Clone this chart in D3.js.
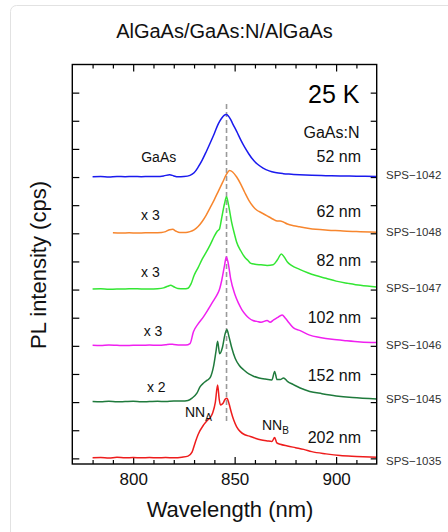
<!DOCTYPE html>
<html>
<head>
<meta charset="utf-8">
<script src="https://cdn.jsdelivr.net/npm/d3@7"></script>
<style>
	body { margin: 0; background: #fff; }
	svg { font-family: Arial, "Liberation Sans", sans-serif; }
	.tick line { stroke: #000; stroke-width: 1.2; }
	.tick text { font-size: 17px; fill: #111; }
	.domain { display: none; }
</style>
</head>
<body>
<div id="chart"></div>
<script>

	// spectra: [wavelength (nm), intensity above own baseline]
	const sps1042 = [ [780,0.01],[784,0.02],[788,0.0],[792,0.02],[796,0.01],[800,0.02],[804,0.01],[808,0.02],[812,0.02],[815,0.04],[818,0.08],[820,0.04],[822,0.01],[825,0.02],[828,0.06],[830,0.15],[832,0.35],[834,0.6],[836,0.9],[838,1.22],[840,1.55],[842,1.9],[843.5,2.08],[844.8,2.19],[845.8,2.22],[846.8,2.18],[848,2.05],[849,1.9],[851,1.62],[853,1.32],[855,1.05],[857,0.82],[859,0.62],[861,0.47],[864,0.32],[867,0.22],[870,0.16],[874,0.12],[878,0.1],[882,0.08],[888,0.06],[895,0.05],[902,0.04],[910,0.03],[920,0.02] ];
	const sps1048 = [ [790,0.02],[794,0.01],[798,0.02],[802,0.01],[806,0.02],[810,0.02],[814,0.03],[816,0.06],[818,0.13],[819.5,0.14],[821,0.08],[823,0.03],[826,0.03],[828,0.06],[830,0.12],[832,0.24],[834,0.42],[836,0.65],[838,0.92],[840,1.2],[842,1.5],[844,1.8],[846,2.1],[847.5,2.23],[849,2.18],[851,2.0],[853,1.75],[855,1.45],[857,1.17],[859,0.96],[861,0.82],[863,0.74],[865,0.66],[867,0.58],[869,0.5],[871,0.44],[872.5,0.44],[874,0.4],[876,0.33],[879,0.27],[882,0.23],[886,0.18],[890,0.14],[896,0.11],[902,0.09],[910,0.06],[920,0.04] ];
	const sps1047 = [ [780,0.02],[784,0.03],[788,0.01],[792,0.02],[796,0.02],[800,0.03],[804,0.02],[808,0.02],[812,0.03],[815,0.06],[817,0.12],[818.5,0.15],[820,0.1],[822,0.04],[825,0.03],[827,0.05],[828.5,0.2],[830,0.5],[832,0.78],[834,1.08],[836,1.33],[838,1.6],[840,1.9],[841.5,2.08],[842.5,2.15],[843.5,2.5],[845,3.05],[846,3.3],[847,3.0],[848.5,2.4],[850,1.95],[851,1.68],[853,1.38],[855,1.15],[856.5,1.04],[858,0.93],[860,0.9],[863,0.88],[866,0.86],[869,0.88],[871,1.05],[873,1.26],[874.5,1.15],[876,0.98],[878,0.86],[882,0.72],[886,0.6],[890,0.5],[895,0.4],[900,0.3],[906,0.22],[912,0.15],[920,0.09] ];
	const sps1046 = [ [780,0.02],[784,0.01],[788,0.03],[792,0.02],[796,0.01],[800,0.02],[804,0.02],[808,0.03],[812,0.02],[816,0.04],[818,0.06],[820,0.05],[823,0.03],[826,0.03],[828,0.08],[829.7,0.5],[832,0.78],[834.7,1.04],[837,1.3],[839.5,1.6],[841.3,1.81],[842.5,2.0],[843.7,2.35],[845,2.85],[845.9,3.16],[846.8,2.95],[848,2.4],[850,1.85],[852,1.5],[853.6,1.28],[855.5,1.1],[857,0.99],[859,0.9],[861,0.87],[863,0.84],[866,0.9],[867.5,0.84],[869.2,0.92],[871,1.0],[873.4,1.1],[875,0.98],[877,0.8],[879,0.64],[882,0.55],[887,0.38],[892,0.3],[898,0.23],[905,0.18],[912,0.14],[920,0.12] ];
	const sps1045 = [ [780,0.02],[784,0.01],[788,0.03],[792,0.01],[796,0.02],[800,0.03],[804,0.01],[808,0.02],[812,0.03],[816,0.02],[820,0.04],[824,0.04],[827,0.06],[829,0.14],[831.4,0.32],[833,0.55],[834.7,0.68],[836.5,0.78],[838,0.88],[839.6,1.27],[840.8,1.8],[841.6,2.16],[842.6,1.72],[844,1.95],[845.2,2.4],[846.2,2.57],[847.3,2.3],[848.5,1.95],[850.3,1.55],[852.3,1.3],[854.4,1.15],[857,1.0],[859.3,0.92],[862,0.86],[865,0.82],[868.4,0.79],[869.7,1.09],[870.9,0.8],[872.5,0.8],[874.1,0.86],[876,0.74],[879,0.62],[882.3,0.5],[887,0.38],[893,0.3],[900,0.22],[908,0.16],[920,0.11] ];
	const sps1035 = [ [780,0.02],[784,0.03],[788,0.01],[792,0.04],[796,0.02],[800,0.03],[804,0.02],[808,0.03],[812,0.02],[816,0.03],[820,0.02],[824,0.04],[827,0.08],[829,0.22],[830.5,0.55],[832,0.85],[834.7,1.19],[836.5,1.35],[838,1.45],[839.2,1.62],[840.5,2.0],[841.6,2.61],[842.4,2.1],[843,1.9],[844.2,1.95],[845.3,2.1],[846.2,2.14],[847.2,1.95],[848.3,1.65],[849.5,1.37],[851,1.12],[852.8,0.95],[855,0.84],[857.7,0.78],[860,0.72],[862.7,0.66],[866,0.62],[868.4,0.6],[869.7,0.74],[870.8,0.55],[872.5,0.5],[876,0.44],[880,0.38],[884,0.32],[888,0.24],[895,0.16],[902,0.1],[910,0.07],[920,0.04] ];

	const spectra = [ sps1042, sps1048, sps1047, sps1046, sps1045, sps1035 ];
	const sampleNames = [ "SPS\u22121042", "SPS\u22121048", "SPS\u22121047", "SPS\u22121046", "SPS\u22121045", "SPS\u22121035" ];
	const thickness = [ "52 nm", "62 nm", "82 nm", "102 nm", "152 nm", "202 nm" ];
	const offsets = [ 10, 8, 6, 4, 2, 0 ];
	const colors = [ "#1a1aee", "#f7862e", "#33e633", "#f020f0", "#1f7a3c", "#ee1c1c" ];
	const factors = [ "GaAs", "x 3", "x 3", "x 3", "x 2" ];

	const majorTicks = [ 800, 850, 900 ];
	const minorTicks = d3.range(780, 920, 10).filter((d) => d % 50 !== 0);
	const yTicks = d3.range(0, 14);
	const peakLine = 846;

	const width = 448;
	const height = 532;
	const frame = { left: 72.3, top: 64.5, right: 376.7, bottom: 464 };

	const svg = d3.select("#chart")
					.append("svg")
						.attr("width", width)
						.attr("height", height);

	// light panel outline
	svg.append("rect")
		.attr("x", 10.5)
		.attr("y", 5.5)
		.attr("width", 460)
		.attr("height", 560)
		.attr("rx", 6)
		.style("fill", "none")
		.style("stroke", "#e2e2e2");

	const x = d3.scaleLinear()
				.domain([770, 920])
				.range([frame.left, frame.right]);

	const y = d3.scaleLinear()
				.domain([-0.2, 14])
				.range([frame.bottom, frame.top]);

	// axes, ticks pointing inward on all four sides
	svg.append("g")
		.attr("transform", `translate(0, ${frame.bottom})`)
		.call(d3.axisBottom(x).tickValues(majorTicks).tickSize(-7).tickPadding(9).tickFormat(d3.format("d")));
	svg.append("g")
		.attr("transform", `translate(0, ${frame.bottom})`)
		.call(d3.axisBottom(x).tickValues(minorTicks).tickSize(-4).tickFormat(""));
	svg.append("g")
		.attr("transform", `translate(0, ${frame.top})`)
		.call(d3.axisTop(x).tickValues(majorTicks).tickSize(-7).tickFormat(""));
	svg.append("g")
		.attr("transform", `translate(0, ${frame.top})`)
		.call(d3.axisTop(x).tickValues(minorTicks).tickSize(-4).tickFormat(""));
	svg.append("g")
		.attr("transform", `translate(${frame.left}, 0)`)
		.call(d3.axisLeft(y).tickValues(yTicks).tickSize(-7).tickFormat(""));
	svg.append("g")
		.attr("transform", `translate(${frame.right}, 0)`)
		.call(d3.axisRight(y).tickValues(yTicks).tickSize(-6).tickFormat(""));

	svg.append("line")
		.attr("x1", x(peakLine))
		.attr("x2", x(peakLine))
		.attr("y1", y(12.6))
		.attr("y2", y(1.26))
		.style("stroke", "#9a9a9a")
		.style("stroke-width", 1.6)
		.style("stroke-dasharray", "5,3");

	const line = d3.line()
					.x((d) => x(d[0]))
					.curve(d3.curveMonotoneX);

	svg.append("g")
		.attr("class", "spectra")
		.selectAll("path")
			.data(spectra).enter()
		.append("path")
			.attr("d", (d, i) => line.y((p) => y(p[1] + offsets[i]))(d))
			.style("fill", "none")
			.style("stroke", (d, i) => colors[i])
			.style("stroke-width", 1.5);

	svg.append("rect")
		.attr("x", frame.left)
		.attr("y", frame.top)
		.attr("width", frame.right - frame.left)
		.attr("height", frame.bottom - frame.top)
		.style("fill", "none")
		.style("stroke", "#000")
		.style("stroke-width", 1.4);

	// labels
	const thicknessY = [ 161.7, 217.3, 265.7, 322.7, 380.7, 442.7 ];
	const sampleY = [ 178.5, 235.5, 292, 349.3, 403.3, 465 ];
	const factorPos = [ [812.6, 161.5], [808.5, 219.5], [808.5, 276.5], [809.8, 336], [811.4, 392] ];

	svg.append("g")
		.selectAll("text")
			.data(thickness).enter()
		.append("text")
			.attr("x", 361)
			.attr("y", (d, i) => thicknessY[i])
			.attr("text-anchor", "end")
			.style("font-size", "16px")
			.style("fill", "#111")
			.text((d) => d);

	svg.append("g")
		.selectAll("text")
			.data(sampleNames).enter()
		.append("text")
			.attr("x", 386)
			.attr("y", (d, i) => sampleY[i])
			.style("font-size", "11.5px")
			.style("fill", "#333")
			.text((d) => d);

	svg.append("g")
		.selectAll("text")
			.data(factorPos).enter()
		.append("text")
			.attr("x", (d) => x(d[0]))
			.attr("y", (d) => d[1])
			.attr("text-anchor", "middle")
			.style("font-size", "14px")
			.style("fill", "#111")
			.text((d, i) => factors[i]);

	svg.append("text")
		.attr("x", 359.5)
		.attr("y", 102.7)
		.attr("text-anchor", "end")
		.style("font-size", "25px")
		.style("fill", "#000")
		.text("25 K");

	svg.append("text")
		.attr("x", 359.5)
		.attr("y", 138.3)
		.attr("text-anchor", "end")
		.style("font-size", "16px")
		.style("fill", "#111")
		.text("GaAs:N");

	const nnA = svg.append("text")
					.attr("x", 185)
					.attr("y", 416.5)
					.style("font-size", "14px")
					.style("fill", "#111");
	nnA.append("tspan").text("NN");
	nnA.append("tspan").attr("dy", 4).style("font-size", "10px").text("A");

	const nnB = svg.append("text")
					.attr("x", 262)
					.attr("y", 430)
					.style("font-size", "14px")
					.style("fill", "#111");
	nnB.append("tspan").text("NN");
	nnB.append("tspan").attr("dy", 4).style("font-size", "10px").text("B");

	svg.append("text")
		.attr("x", 224.5)
		.attr("y", 38.3)
		.attr("text-anchor", "middle")
		.style("font-size", "20px")
		.style("fill", "#111")
		.text("AlGaAs/GaAs:N/AlGaAs");

	svg.append("text")
		.attr("x", 230)
		.attr("y", 517)
		.attr("text-anchor", "middle")
		.style("font-size", "22px")
		.style("fill", "#111")
		.text("Wavelength (nm)");

	svg.append("text")
		.attr("transform", `translate(46, 265)rotate(-90)`)
		.attr("text-anchor", "middle")
		.style("font-size", "22px")
		.style("fill", "#111")
		.text("PL intensity (cps)");

</script>
</body>
</html>
